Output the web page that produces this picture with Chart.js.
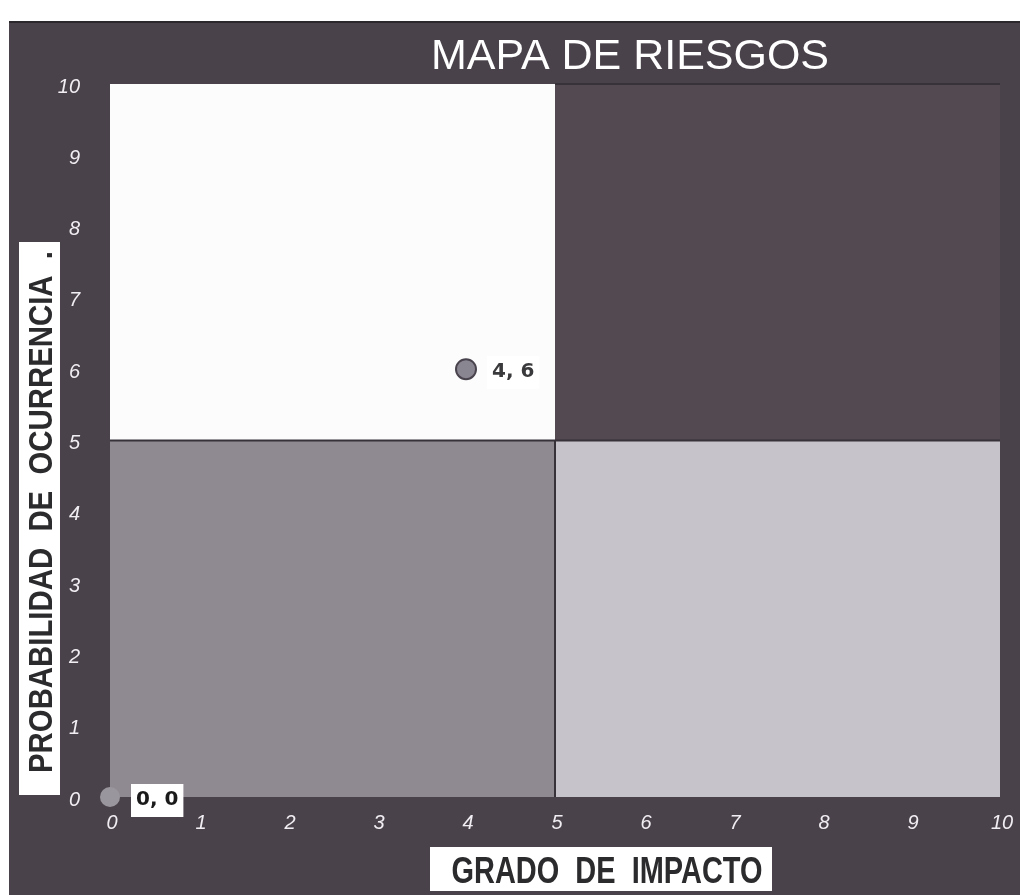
<!DOCTYPE html>
<html lang="es">
<head>
<meta charset="utf-8">
<title>Mapa de riesgos</title>
<script src="https://cdn.jsdelivr.net/npm/chart.js@4/dist/chart.umd.min.js"></script>
<style>
  html, body { margin: 0; padding: 0; background: #ffffff; }
  #wrap { width: 1020px; height: 895px; }
</style>
</head>
<body>
<div id="wrap"><canvas id="mapa" width="1020" height="895"></canvas></div>
<script>
// Riesgos evaluados: impacto (eje X) y probabilidad (eje Y)
const riskImpact = [4, 0];
const riskProbability = [6, 0];

// Escalas de ambos ejes
const impactTicks = [0, 1, 2, 3, 4, 5, 6, 7, 8, 9, 10];
const probabilityTicks = [0, 1, 2, 3, 4, 5, 6, 7, 8, 9, 10];

// Cuadrantes del mapa: rango de impacto y de probabilidad de cada zona
const zoneImpact = [[0, 5], [5, 10], [0, 5], [5, 10]];
const zoneProbability = [[5, 10], [5, 10], [0, 5], [0, 5]];
const zoneSplit = 5;

const chartTitle = 'MAPA DE RIESGOS';
const xTitle = 'GRADO  DE  IMPACTO';
const yTitle = 'PROBABILIDAD  DE  OCURRENCIA  .';

const zoneColors = ['#fcfcfc', '#524951', '#8f8991', '#c6c3ca'];
const tickColor = '#f1eef3';

// Fondo oscuro de la lámina
const backdrop = {
  id: 'backdrop',
  beforeDraw(chart) {
    const c = chart.ctx;
    c.save();
    c.fillStyle = '#ffffff';
    c.fillRect(0, 0, chart.width, chart.height);
    c.fillStyle = '#4a424a';
    c.fillRect(9, 21, chart.width - 9, chart.height - 21);
    c.strokeStyle = '#2c272d';
    c.lineWidth = 2;
    c.beginPath();
    c.moveTo(9, 22); c.lineTo(chart.width, 22);
    c.stroke();
    c.restore();
  }
};

// Zonas de riesgo pintadas según las escalas
const zones = {
  id: 'zones',
  beforeDatasetsDraw(chart) {
    const c = chart.ctx, x = chart.scales.x, y = chart.scales.y;
    c.save();
    zoneImpact.forEach((xr, i) => {
      const yr = zoneProbability[i];
      const l = x.getPixelForValue(xr[0]), r = x.getPixelForValue(xr[1]);
      const t = y.getPixelForValue(yr[1]), b = y.getPixelForValue(yr[0]);
      c.fillStyle = zoneColors[i];
      c.fillRect(l, t, r - l, b - t);
    });
    c.strokeStyle = '#37313a';
    c.lineWidth = 2;
    c.beginPath();
    const mx = x.getPixelForValue(zoneSplit), my = y.getPixelForValue(zoneSplit);
    c.moveTo(chart.chartArea.left, my); c.lineTo(chart.chartArea.right, my);
    c.moveTo(mx, my); c.lineTo(mx, chart.chartArea.bottom);
    c.moveTo(mx, chart.chartArea.top); c.lineTo(chart.chartArea.right, chart.chartArea.top);
    c.stroke();
    c.restore();
  }
};

// Etiquetas "impacto, probabilidad" junto a cada punto
const pointLabels = {
  id: 'pointLabels',
  afterDatasetsDraw(chart) {
    const c = chart.ctx;
    const meta = chart.getDatasetMeta(0);
    c.save();
    c.font = 'bold 20px "DejaVu Sans"';
    c.textBaseline = 'middle';
    meta.data.forEach((pt, i) => {
      const txt = riskImpact[i] + ', ' + riskProbability[i];
      const w = c.measureText(txt).width;
      const tx = pt.x + 26, ty = pt.y + 3;
      c.fillStyle = '#ffffff';
      c.fillRect(tx - 5, ty - 16, w + 10, 33);
      c.fillStyle = i === 0 ? '#3a3a3c' : '#1a1a1a';
      c.fillText(txt, tx, ty);
    });
    c.restore();
  }
};

// Texto estrechado horizontalmente para ocupar un ancho dado
function narrowText(c, txt, cx, baseY, width) {
  const w = c.measureText(txt).width;
  c.save();
  c.translate(cx, baseY);
  c.scale(width / w, 1);
  c.textAlign = 'center';
  c.textBaseline = 'alphabetic';
  c.fillText(txt, 0, 0);
  c.restore();
}

// Título y rótulos de los ejes
const titles = {
  id: 'titles',
  afterDraw(chart) {
    const c = chart.ctx;
    c.save();
    c.fillStyle = '#ffffff';
    c.font = '42px "Liberation Sans"';
    narrowText(c, chartTitle, 630, 69, 398);

    // rótulo del eje X
    c.fillStyle = '#ffffff';
    c.fillRect(430, 847, 342, 44);
    c.fillStyle = '#2b2b2d';
    c.font = 'bold 37px "Liberation Sans"';
    narrowText(c, xTitle, 607, 883, 311);

    // rótulo del eje Y
    c.fillStyle = '#ffffff';
    c.fillRect(19, 242, 41, 553);
    c.save();
    c.translate(52, 512);
    c.rotate(-Math.PI / 2);
    c.fillStyle = '#2b2b2d';
    c.font = 'bold 33px "Liberation Sans"';
    narrowText(c, yTitle, 0, 0, 522);
    c.restore();
    c.restore();
  }
};

const tickFont = { family: '"Liberation Sans"', size: 20, style: 'italic' };

new Chart(document.getElementById('mapa'), {
  type: 'scatter',
  data: {
    datasets: [{
      label: 'Riesgos',
      data: riskImpact.map((v, i) => ({ x: v, y: riskProbability[i] })),
      pointRadius: 10,
      pointHoverRadius: 10,
      backgroundColor: ['#8a8691', '#9a969e'],
      borderColor: ['#48434d', '#8c8891'],
      borderWidth: [2, 0],
      clip: false
    }]
  },
  options: {
    responsive: false,
    animation: false,
    events: [],
    layout: { padding: { top: 84, right: 0, left: 0, bottom: 0 } },
    plugins: {
      legend: { display: false },
      title: { display: false },
      tooltip: { enabled: false }
    },
    scales: {
      x: {
        type: 'linear',
        min: impactTicks[0],
        max: impactTicks[impactTicks.length - 1],
        afterBuildTicks: s => { s.ticks = impactTicks.map(v => ({ value: v })); },
        afterFit: s => { s.height = 98; s.paddingRight = 20; },
        grid: { display: false },
        border: { display: false },
        ticks: { color: tickColor, font: tickFont, padding: 6, maxRotation: 0, labelOffset: 2 }
      },
      y: {
        type: 'linear',
        min: probabilityTicks[0],
        max: probabilityTicks[probabilityTicks.length - 1],
        afterBuildTicks: s => { s.ticks = probabilityTicks.map(v => ({ value: v })); },
        afterFit: s => { s.width = 110; },
        grid: { display: false },
        border: { display: false },
        ticks: { color: tickColor, font: tickFont, padding: 22, labelOffset: 3 }
      }
    }
  },
  plugins: [backdrop, zones, pointLabels, titles]
});
</script>
</body>
</html>
